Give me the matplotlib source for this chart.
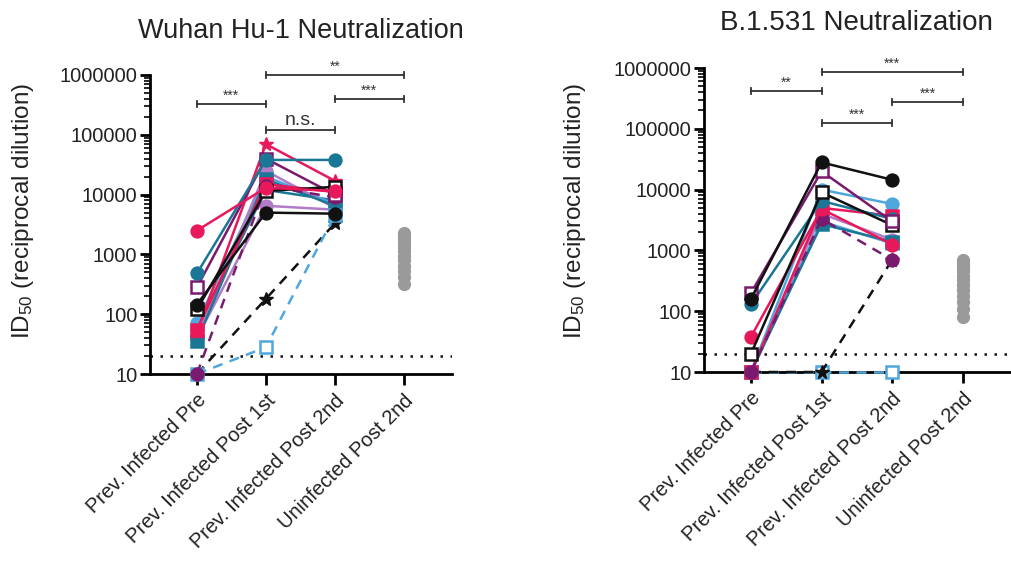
import matplotlib
matplotlib.use("Agg")
import matplotlib.pyplot as plt
import numpy as np
from matplotlib.ticker import LogLocator, NullFormatter, FixedLocator

plt.rcParams['font.family'] = ['Liberation Sans', 'DejaVu Sans']
plt.rcParams['mathtext.fontset'] = 'custom'
plt.rcParams['mathtext.rm'] = 'Liberation Sans'
plt.rcParams['mathtext.it'] = 'Liberation Sans:italic'

categories = ["Prev. Infected Pre", "Prev. Infected Post 1st",
              "Prev. Infected Post 2nd", "Uninfected Post 2nd"]
ytick_vals = [10, 100, 1000, 10000, 100000, 1000000]
ytick_labels = ["10", "100", "1000", "10000", "100000", "1000000"]

RED = "#E8195A"; TEAL = "#1A7896"; LBLUE = "#4FA7DE"; PURPLE = "#7A1A6E"
LILAC = "#B07CC8"; BLACK = "#111111"; GRAY = "#9A9A9A"

# (color, marker, filled, linestyle, values Pre/Post1/Post2)
wuhan_series = [
    (LILAC,  'o', True,  '-',  [40, 6500, 5600]),
    (TEAL,   'o', True,  '-',  [60, 12000, 8000]),
    (LBLUE,  'o', True,  '-',  [70, 20000, 7000]),
    (LILAC,  'o', True,  '-',  [42, 25000, 6000]),
    (TEAL,   's', True,  '-',  [36, 18000, 6500]),
    (RED,    's', True,  '-',  [55, 15000, 11000]),
    (RED,    '*', True,  '-',  [50, 70000, 17000]),
    (BLACK,  '*', True,  '--', [10, 180, 3300]),
    (LBLUE,  's', False, '--', [10, 28, 4500]),
    (PURPLE, 'o', True,  '--', [10, 14000, 9000]),
    (PURPLE, 's', False, '-',  [280, 40000, 10000]),
    (TEAL,   'o', True,  '-',  [480, 38000, 38000]),
    (BLACK,  's', False, '-',  [120, 11500, 13500]),
    (BLACK,  'o', True,  '-',  [145, 5000, 4800]),
    (RED,    'o', True,  '-',  [2500, 13000, 11500]),
]
wuhan_uninfected = [2300, 2000, 1800, 1550, 1350, 1150, 950, 800, 650, 520, 420, 320]

b1531_series = [
    (LBLUE,  's', True,  '-',  [10, 3000, 1300]),
    (LILAC,  'o', True,  '-',  [10, 4000, 1500]),
    (TEAL,   's', True,  '-',  [10, 2700, 1400]),
    (LBLUE,  's', False, '--', [10, 10, 10]),
    (BLACK,  '*', True,  '--', [10, 10, 700]),
    (LBLUE,  'o', True,  '-',  [10, 10000, 5800]),
    (RED,    's', True,  '-',  [10, 5000, 3700]),
    (PURPLE, 'o', True,  '--', [10, 3300, 700]),
    (RED,    'o', True,  '-',  [38, 4800, 1250]),
    (TEAL,   'o', True,  '-',  [130, 6500, 3300]),
    (BLACK,  's', False, '-',  [20, 9000, 2600]),
    (PURPLE, 's', False, '-',  [200, 20000, 3000]),
    (BLACK,  'o', True,  '-',  [160, 28000, 14500]),
]
b1531_uninfected = [690, 600, 520, 450, 380, 320, 270, 220, 180, 140, 110, 80]

# brackets: (x_start, x_end, y_level, label)
wuhan_brackets = [(0, 1, 330000, "***"), (1, 3, 1000000, "**"),
                  (2, 3, 400000, "***"), (1, 2, 120000, "n.s.")]
b1531_brackets = [(0, 1, 420000, "**"), (1, 3, 850000, "***"),
                  (2, 3, 275000, "***"), (1, 2, 125000, "***")]

cutoff = 20

W, H = 1012, 577
fig = plt.figure(figsize=(W/100, H/100), dpi=100)
ax1 = fig.add_axes([150/W, 1-374/H, (452-150)/W, (374-75)/H])
ax2 = fig.add_axes([704/W, 1-372/H, (1010-704)/W, (372-68)/H])


def draw(ax, series, uninf, brackets, xlim):
    x = np.arange(3)
    for color, marker, filled, ls, vals in series:
        ms = 10 if marker == '*' else 8.5
        kw = dict(color=color, lw=1.8, marker=marker, ms=ms,
                  markerfacecolor=color if filled else 'white',
                  markeredgecolor=color, markeredgewidth=1.8 if marker != '*' else 1.0,
                  clip_on=False, zorder=3)
        if ls == '--':
            ax.plot(x, vals, ls='--', dashes=(4, 3), **kw)
        else:
            ax.plot(x, vals, ls='-', **kw)
    ax.plot([3]*len(uninf), uninf, 'o', color=GRAY, ms=8.5, zorder=3)
    ax.axhline(cutoff, color=BLACK, ls=(0, (1, 3)), lw=1.8, zorder=2)
    ax.set_yscale('log')
    ax.set_ylim(10, 1000000)
    ax.set_xlim(*xlim)
    ax.yaxis.set_major_locator(FixedLocator(ytick_vals))
    ax.set_yticklabels(ytick_labels)
    ax.yaxis.set_minor_locator(LogLocator(base=10, subs=np.arange(2, 10)))
    ax.yaxis.set_minor_formatter(NullFormatter())
    ax.set_xticks(range(4))
    ax.set_xticklabels(categories, rotation=45, ha='right',
                       rotation_mode='anchor', fontsize=14.5, color='#222222')
    ax.tick_params(axis='y', which='major', length=7, width=2, labelsize=14.5,
                   pad=2, labelcolor='#222222')
    ax.tick_params(axis='y', which='minor', length=4, width=1.2)
    ax.tick_params(axis='x', which='major', length=8, width=2, pad=4)
    for s in ['top', 'right']:
        ax.spines[s].set_visible(False)
    for s in ['left', 'bottom']:
        ax.spines[s].set_linewidth(2)
    for x0, x1, y, lab in brackets:
        ax.plot([x0, x1], [y, y], color='#333333', lw=1.3, clip_on=False)
        cap = 1.12
        for xx in (x0, x1):
            ax.plot([xx, xx], [y/cap, y*cap], color='#333333', lw=1.3, clip_on=False)
        fs = 14 if lab == 'n.s.' else 10
        ax.text((x0+x1)/2, y*1.04, lab, ha='center', va='bottom', fontsize=fs,
                color='#333333')


draw(ax1, wuhan_series, wuhan_uninfected, wuhan_brackets, (-0.68, 3.7))
draw(ax2, b1531_series, b1531_uninfected, b1531_brackets, (-0.666, 3.67))

ylab = "ID$_{\\mathrm{50}}$ (reciprocal dilution)"
fig.text(23/W, 1-211/H, ylab, rotation=90, ha='center', va='center',
         fontsize=17.5, color='#222222')
fig.text(575/W, 1-211/H, ylab, rotation=90, ha='center', va='center',
         fontsize=17.5, color='#222222')
fig.text(301/W, 1-38/H, "Wuhan Hu-1 Neutralization", ha='center',
         va='baseline', fontsize=19.5, color='#222222')
fig.text(856/W, 1-30/H, "B.1.531 Neutralization", ha='center',
         va='baseline', fontsize=20, color='#222222')

fig.savefig("out.png", dpi=100)
